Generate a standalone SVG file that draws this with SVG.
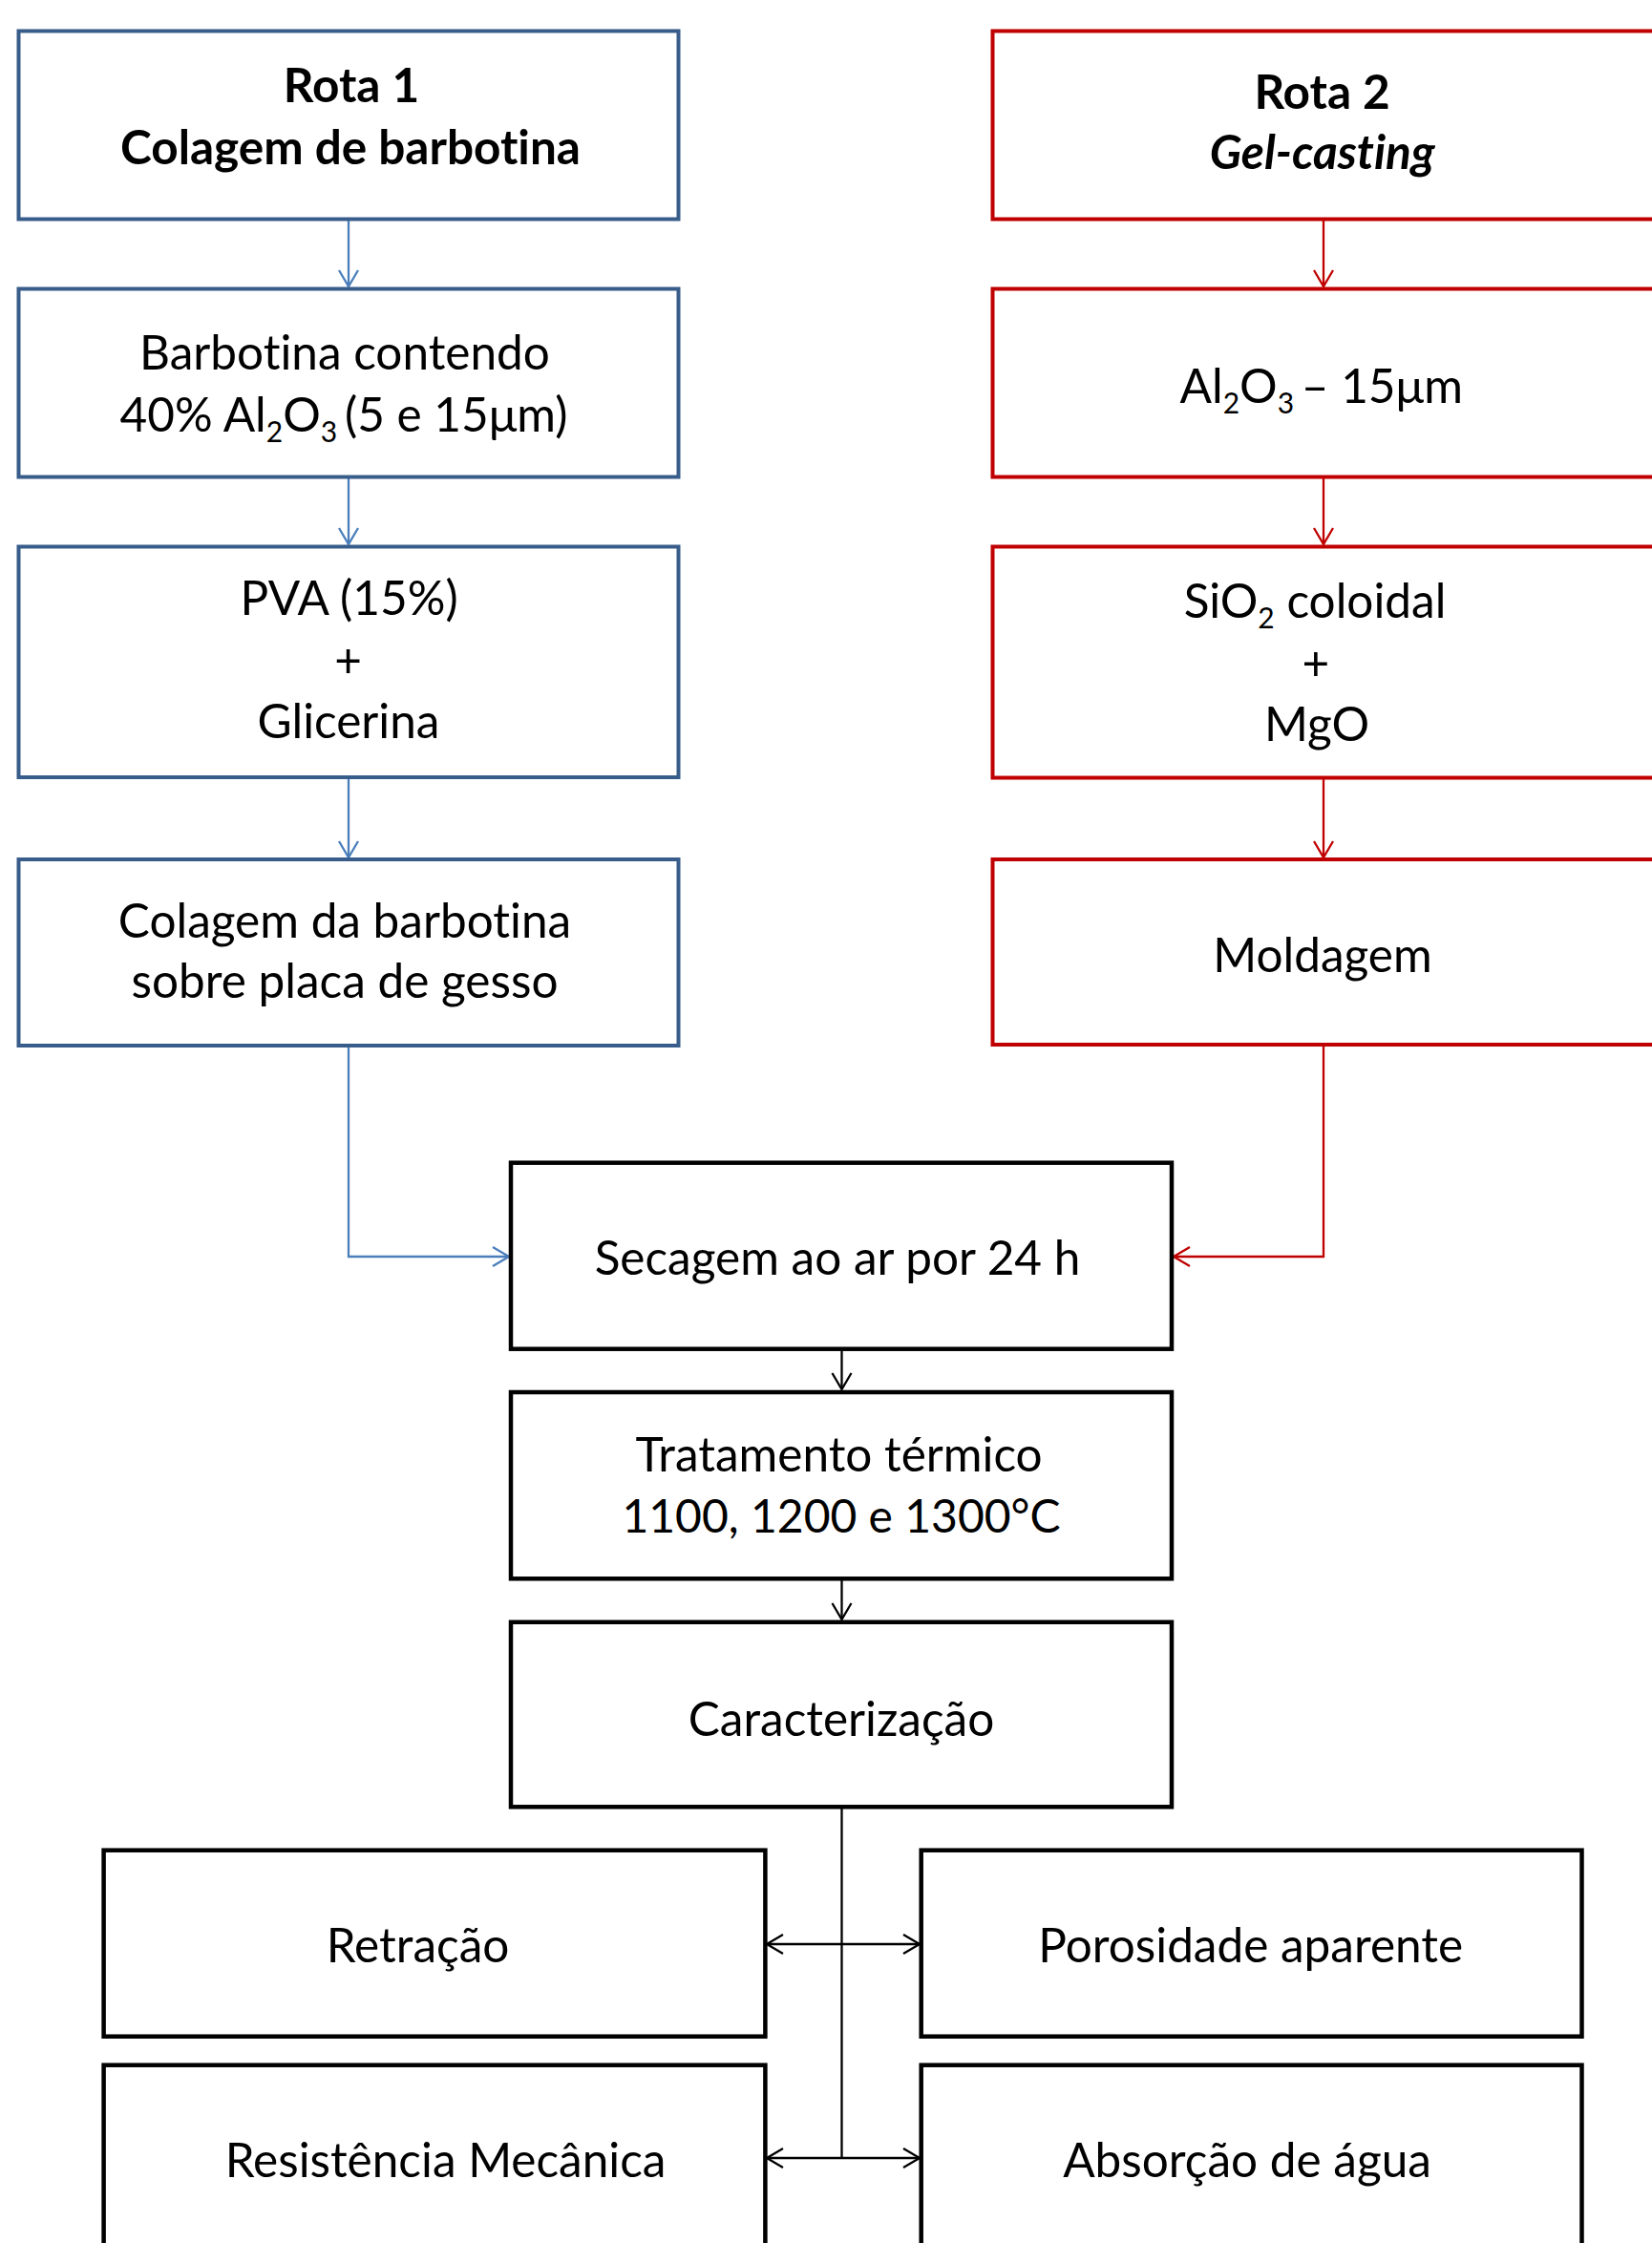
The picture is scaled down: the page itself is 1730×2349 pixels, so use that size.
<svg xmlns="http://www.w3.org/2000/svg" width="1730" height="2349" viewBox="0 0 1730 2349">
<style>
.bb{fill:#fff;stroke:#385D8A;stroke-width:4}
.br{fill:#fff;stroke:#C00000;stroke-width:4}
.bk{fill:#fff;stroke:#000;stroke-width:4.5}
text{font-family:Lato,"Open Sans",sans-serif;font-size:49.5px;fill:#000;text-anchor:middle;font-variant-ligatures:none}
.b{font-weight:bold}
.bi{font-weight:bold;font-style:italic}
.s{font-size:30px}
.n{font-size:48px}
.cb{fill:none;stroke:#4A7EBB;stroke-width:2.3}
.cr{fill:none;stroke:#C00000;stroke-width:2.3}
.ck{fill:none;stroke:#000;stroke-width:2.3}
</style>
<defs>
<marker id="ab" markerUnits="userSpaceOnUse" markerWidth="40" markerHeight="40" refX="0" refY="0" orient="auto" overflow="visible"><path d="M-17,-10 L0,0 L-17,10" fill="none" stroke="#4A7EBB" stroke-width="2.3"/></marker>
<marker id="ar" markerUnits="userSpaceOnUse" markerWidth="40" markerHeight="40" refX="0" refY="0" orient="auto" overflow="visible"><path d="M-17,-10 L0,0 L-17,10" fill="none" stroke="#C00000" stroke-width="2.3"/></marker>
<marker id="ak" markerUnits="userSpaceOnUse" markerWidth="40" markerHeight="40" refX="0" refY="0" orient="auto-start-reverse" overflow="visible"><path d="M-17,-10 L0,0 L-17,10" fill="none" stroke="#000" stroke-width="2.3"/></marker>
</defs>
<rect width="1730" height="2349" fill="#fff"/>
<g id="connectors">
<path class="cb" d="M365,231 V300" marker-end="url(#ab)"/>
<path class="cb" d="M365,501 V570" marker-end="url(#ab)"/>
<path class="cb" d="M365,816 V898" marker-end="url(#ab)"/>
<path class="cb" d="M365,1097 V1316 H533" marker-end="url(#ab)"/>
<path class="cr" d="M1386,231 V300" marker-end="url(#ar)"/>
<path class="cr" d="M1386,501 V570" marker-end="url(#ar)"/>
<path class="cr" d="M1386,816 V898" marker-end="url(#ar)"/>
<path class="cr" d="M1386,1096 V1316 H1229" marker-end="url(#ar)"/>
<path class="ck" d="M881.5,1415 V1455" marker-end="url(#ak)"/>
<path class="ck" d="M881.5,1655 V1696" marker-end="url(#ak)"/>
<path class="ck" d="M881.5,1894 V2260"/>
<path class="ck" d="M803,2036 H963" marker-start="url(#ak)" marker-end="url(#ak)"/>
<path class="ck" d="M803,2260 H963" marker-start="url(#ak)" marker-end="url(#ak)"/>
</g>
<g id="rota1">
<rect class="bb" x="19.5" y="32.5" width="691" height="197"/>
<text class="b" x="368" y="107">Rota 1</text>
<text class="b" x="367" y="171.5">Colagem de barbotina</text>
</g>
<g id="barbotina">
<rect class="bb" x="19.5" y="302.5" width="691" height="197"/>
<text x="361" y="387">Barbotina contendo</text>
<text x="360" y="452">40% Al<tspan class="s" dy="11">2</tspan><tspan dy="-11">O</tspan><tspan class="s" dy="11">3 </tspan><tspan dy="-11">(5 e 15μm)</tspan></text>
</g>
<g id="pva">
<rect class="bb" x="19.5" y="572.5" width="691" height="241.5"/>
<text x="365.5" y="644">PVA (15%)</text>
<text x="364.5" y="708.5">+</text>
<text x="365" y="772.5">Glicerina</text>
</g>
<g id="colagem">
<rect class="bb" x="19.5" y="900" width="691" height="195"/>
<text x="361" y="982">Colagem da barbotina</text>
<text x="361" y="1045">sobre placa de gesso</text>
</g>
<g id="rota2">
<rect class="br" x="1039.5" y="32.5" width="700" height="197"/>
<text class="b" x="1384.6" y="114">Rota 2</text>
<text class="bi" x="1384.7" y="177.3">Gel-casting</text>
</g>
<g id="al2o3">
<rect class="br" x="1039.5" y="302.5" width="700" height="197"/>
<text x="1383.7" y="421.7">Al<tspan class="s" dy="11">2</tspan><tspan dy="-11">O</tspan><tspan class="s" dy="11">3 </tspan><tspan dy="-11">– 15μm</tspan></text>
</g>
<g id="sio2">
<rect class="br" x="1039.5" y="572.5" width="700" height="242"/>
<text x="1377" y="647">SiO<tspan class="s" dy="11">2</tspan><tspan dy="-11"> coloidal</tspan></text>
<text x="1377.8" y="711.5">+</text>
<text x="1379" y="775.6">MgO</text>
</g>
<g id="moldagem">
<rect class="br" x="1039.5" y="900" width="700" height="194"/>
<text x="1385" y="1017.5">Moldagem</text>
</g>
<g id="secagem">
<rect class="bk" x="535" y="1217.7" width="692" height="195"/>
<text x="877" y="1335.3">Secagem ao ar por 24 h</text>
</g>
<g id="tratamento">
<rect class="bk" x="535" y="1458" width="692" height="195.3"/>
<text x="878.6" y="1541">Tratamento térmico</text>
<text class="n" x="881" y="1604.7">1100, 1200 e 1300°C</text>
</g>
<g id="caracterizacao">
<rect class="bk" x="535" y="1698.8" width="692" height="193.5"/>
<text x="881" y="1818">Caracterização</text>
</g>
<g id="retracao">
<rect class="bk" x="108.6" y="1937.7" width="692.8" height="195"/>
<text x="437.5" y="2055">Retração</text>
</g>
<g id="porosidade">
<rect class="bk" x="964.7" y="1937.7" width="691.8" height="195"/>
<text x="1309.7" y="2055">Porosidade aparente</text>
</g>
<g id="resistencia">
<rect class="bk" x="108.6" y="2162.7" width="692.8" height="200"/>
<text x="466.6" y="2280">Resistência Mecânica</text>
</g>
<g id="absorcao">
<rect class="bk" x="964.7" y="2162.7" width="691.8" height="200"/>
<text x="1306" y="2280">Absorção de água</text>
</g>
</svg>
